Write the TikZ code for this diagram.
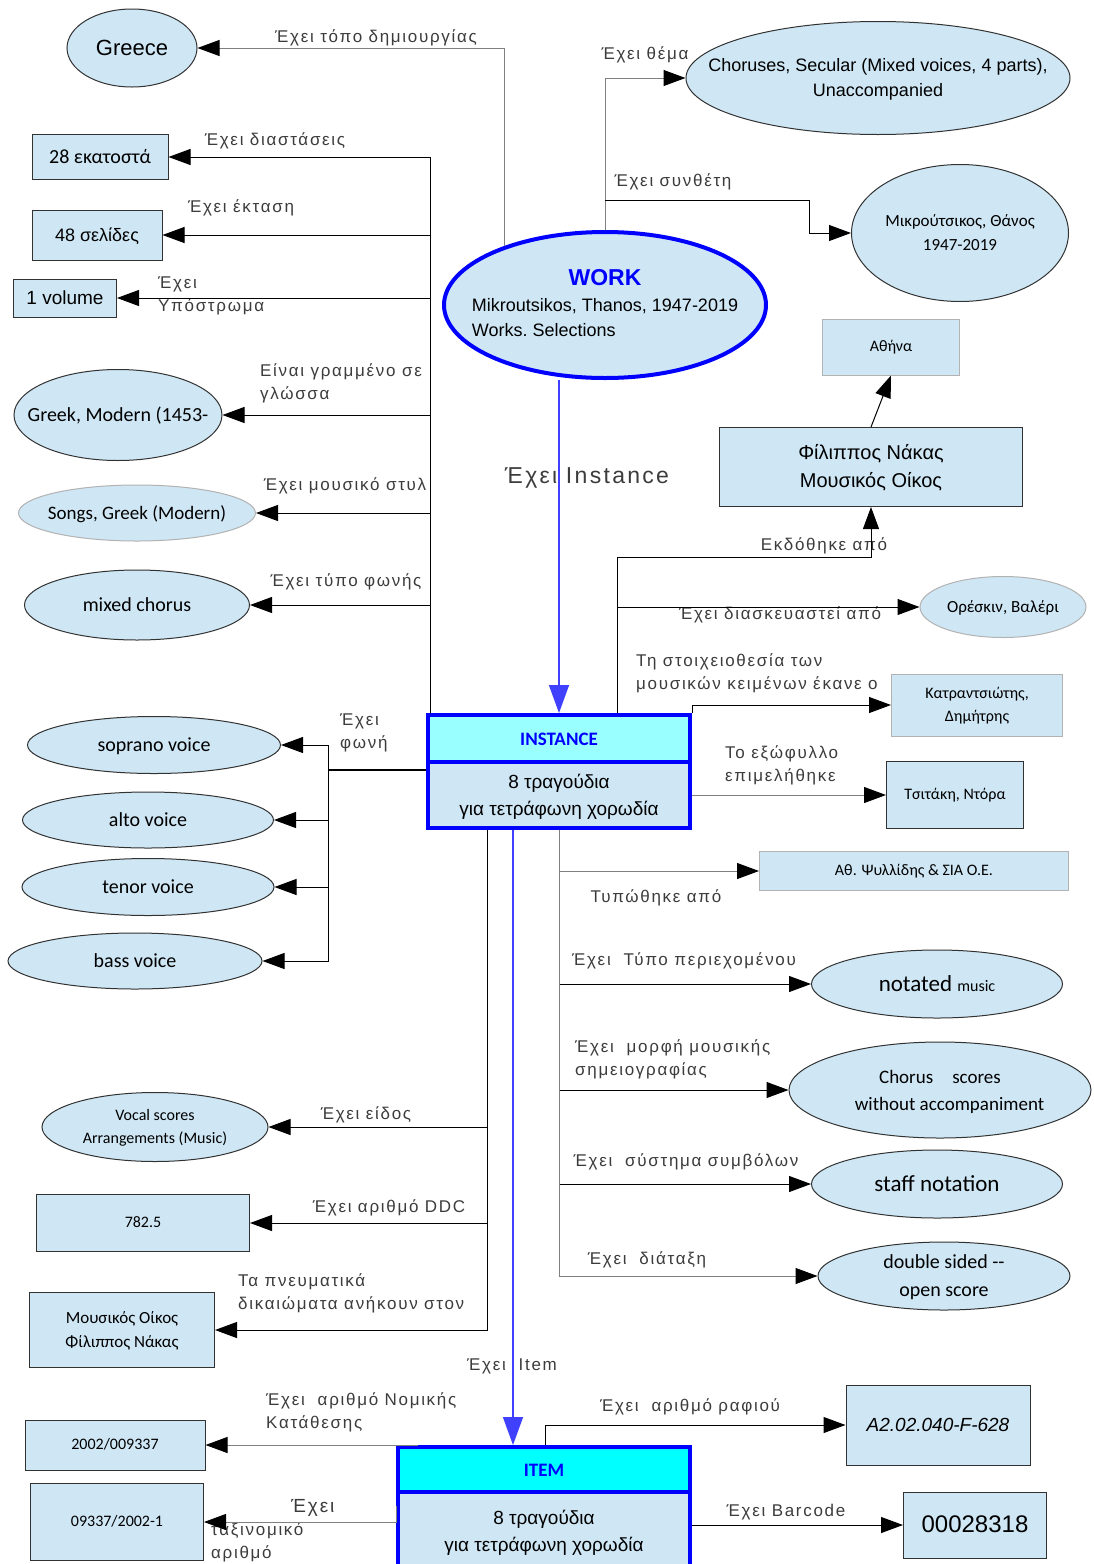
\documentclass[tikz,border=0pt]{standalone}
\usepackage{fontspec}
\setmainfont{Carlito}
\newfontfamily\arialf{Liberation Sans}
\newfontfamily\lblf[LetterSpace=10]{Liberation Sans}
\usetikzlibrary{shapes.geometric,arrows.meta,calc}

\definecolor{nodefill}{RGB}{207,231,245}
\definecolor{nodeline}{RGB}{50,50,50}
\definecolor{instfill}{RGB}{153,255,255}
\definecolor{itemfill}{RGB}{0,255,255}
\definecolor{linkblue}{RGB}{64,64,255}
\definecolor{lblgray}{RGB}{60,60,60}

\newcommand{\ctext}[1]{\makebox[0pt]{\raisebox{-.6em}{\smash{\begin{tabular}{@{}c@{}}#1\end{tabular}}}}}
\newcommand{\fsz}[1]{\fontsize{#1}{#1}\selectfont}
\renewcommand{\arraystretch}{1.4}

\tikzset{
  ell/.style={ellipse, draw=nodeline, fill=nodefill, inner sep=0pt, line width=1pt},
  box/.style={rectangle, draw=nodeline, fill=nodefill, inner sep=0pt, line width=1pt},
  lite/.style={draw=gray!60},
  main/.style={draw=blue, line width=4pt, inner sep=0pt},
  lbl/.style={text=lblgray, font=\lblf\fontsize{17}{23}\selectfont, inner sep=0pt, align=left},
  arr/.style={-{Triangle[length=22pt,width=16pt,color=black]}, line width=1pt},
  garr/.style={arr, draw=gray},
  barr/.style={-{Triangle[length=28pt,width=20pt]}, draw=linkblue, line width=1.5pt},
}

\begin{document}
\begin{tikzpicture}[x=1pt,y=-1pt]
\useasboundingbox[fill=white] (0,0) rectangle (1093,1564);

% central entities
\node[main, ellipse, fill=nodefill, minimum width=322, minimum height=146, font=\arialf\fsz{18}] (work) at (605,305)
  {\makebox[0pt]{\raisebox{-.6em}{\smash{\begin{tabular}{@{}l@{}}\multicolumn{1}{@{}c@{}}{\fsz{23}\bfseries\color{blue}WORK}\\Mikroutsikos, Thanos, 1947-2019\\Works.\ Selections\end{tabular}}}}};
\node[main, rectangle, fill=instfill, minimum width=262, minimum height=47, font=\fsz{19}\bfseries] (instT) at (559,738.5) {\ctext{\color{blue}INSTANCE}};
\node[main, rectangle, fill=nodefill, minimum width=262, minimum height=66, font=\arialf\fsz{19}] (instB) at (559,795) {\ctext{8 τραγούδια\\για τετράφωνη χορωδία}};
\node[main, rectangle, fill=itemfill, minimum width=292, minimum height=45, font=\fsz{19}\bfseries] (itemT) at (544,1469.5) {\ctext{\color{blue}ITEM}};
\node[main, rectangle, fill=nodefill, minimum width=292, minimum height=78, font=\arialf\fsz{19}] (itemB) at (544,1531) {\ctext{8 τραγούδια\\για τετράφωνη χορωδία}};

% left column
\node[ell, minimum width=130, minimum height=78, font=\arialf\fsz{22}] (greece) at (132,48) {\ctext{Greece}};
\node[box, minimum width=136, minimum height=45, font=\fsz{20}] (cm28) at (100,157) {\ctext{28 εκατοστά}};
\node[box, minimum width=130, minimum height=50, font=\arialf\fsz{18}] (pages) at (97,235) {\ctext{48 σελίδες}};
\node[box, minimum width=103, minimum height=38, font=\arialf\fsz{19}] (vol) at (65,298) {\ctext{1 volume}};
\node[ell, minimum width=208, minimum height=91, font=\fsz{20}] (lang) at (118,415) {\ctext{Greek, Modern (1453-}};
\node[ell, lite, minimum width=237, minimum height=56, font=\fsz{19}] (songs) at (137,513) {\ctext{Songs, Greek (Modern)}};
\node[ell, minimum width=225, minimum height=70, font=\fsz{20}] (mixed) at (137,605) {\ctext{mixed chorus}};
\node[ell, minimum width=253, minimum height=57, font=\fsz{20}] (sop) at (154,745) {\ctext{soprano voice}};
\node[ell, minimum width=251, minimum height=56, font=\fsz{20}] (alto) at (148,820) {\ctext{alto voice}};
\node[ell, minimum width=252, minimum height=57, font=\fsz{20}] (tenor) at (148,887) {\ctext{tenor voice}};
\node[ell, minimum width=254, minimum height=56, font=\fsz{20}] (bass) at (135,961) {\ctext{bass voice}};
\node[ell, minimum width=226, minimum height=69, font=\fsz{16}] (vocal) at (155,1127) {\ctext{Vocal scores\\Arrangements (Music)}};
\node[box, minimum width=213, minimum height=57, font=\fsz{16}] (ddc) at (143,1223) {\ctext{782.5}};
\node[box, minimum width=185, minimum height=75, font=\fsz{17}] (rights) at (122,1330) {\ctext{Μουσικός Οίκος\\Φίλιππος Νάκας}};
\node[box, minimum width=180, minimum height=50, font=\fsz{16}] (nk) at (115,1445) {\ctext{2002/009337}};
\node[box, minimum width=173, minimum height=77, font=\fsz{16}] (tax) at (117,1522) {\ctext{09337/2002-1}};

% right column
\node[ell, minimum width=384, minimum height=113, font=\arialf\fsz{18}] (chor) at (878,78) {\ctext{Choruses, Secular (Mixed voices, 4 parts),\\Unaccompanied}};
\node[ell, minimum width=217, minimum height=137, font=\fsz{17}] (mik) at (960,233) {\ctext{Μικρούτσικος, Θάνος\\1947-2019}};
\node[box, lite, minimum width=137, minimum height=56, font=\fsz{16}] (ath) at (891,347) {\ctext{Αθήνα}};
\node[box, minimum width=303, minimum height=79, font=\arialf\fsz{20}] (fil) at (871,467) {\ctext{Φίλιππος Νάκας\\Μουσικός Οίκος}};
\node[ell, lite, minimum width=166, minimum height=61, font=\fsz{17}] (ores) at (1003,607) {\ctext{Ορέσκιν, Βαλέρι}};
\node[box, lite, minimum width=171, minimum height=62, font=\fsz{16}] (kat) at (977,705) {\ctext{Κατραντσιώτης,\\Δημήτρης}};
\node[box, minimum width=137, minimum height=67, font=\fsz{16}] (tsi) at (955,795) {\ctext{Τσιτάκη, Ντόρα}};
\node[box, lite, minimum width=309, minimum height=39, font=\fsz{16}] (psy) at (914,871) {\ctext{Αθ. Ψυλλίδης \& ΣΙΑ Ο.Ε.}};
\node[ell, minimum width=251, minimum height=68, font=\fsz{23}] (notated) at (937,984) {\ctext{notated {\fsz{16}music}}};
\node[ell, minimum width=302, minimum height=96, font=\fsz{19}] (chsc) at (940,1090) {\ctext{Chorus\quad scores\\\quad without accompaniment}};
\node[ell, minimum width=251, minimum height=68, font=\fsz{23}] (staff) at (937,1184) {\ctext{staff notation}};
\node[ell, minimum width=252, minimum height=68, font=\fsz{20}] (dbl) at (944,1276) {\ctext{double sided -{}-\\open score}};
\node[box, minimum width=184, minimum height=80, font=\arialf\fsz{19}\itshape] (raf) at (938,1425) {\ctext{A2.02.040-F-628}};
\node[box, minimum width=143, minimum height=66, font=\arialf\fsz{24}] (bar) at (975,1525) {\ctext{00028318}};

% labels
\node[lbl] (lGreece) at (376,38) {Έχει τόπο δημιουργίας};
\node[lbl] (lTheme) at (645,55) {Έχει θέμα};
\node[lbl] (lComp) at (673,182) {Έχει συνθέτη};
\node[lbl] (lDim) at (275,141) {Έχει διαστάσεις};
\node[lbl] (lExt) at (241,208) {Έχει έκταση};
\node[lbl, anchor=west] (lMed) at (158,296) {Έχει\\Υπόστρωμα};
\node[lbl, anchor=west] (lLang) at (260,383) {Είναι γραμμένο σε\\γλώσσα};
\node[lbl] (lStyle) at (345,486) {Έχει μουσικό στυλ};
\node[lbl] (lVtype) at (346,582) {Έχει τύπο φωνής};
\node[lbl, anchor=west] (lVoice) at (340,733) {Έχει\\φωνή};
\node[lbl, font=\lblf\fsz{23}] (lInst) at (587,478) {Έχει Instance};
\node[lbl] (lPub) at (824,546) {Εκδόθηκε από};
\node[lbl] (lArr) at (780,615) {Έχει διασκευαστεί από};
\node[lbl, anchor=west] (lSet) at (636,673) {Τη στοιχειοθεσία των\\μουσικών κειμένων έκανε ο};
\node[lbl, anchor=west] (lCov) at (725,765) {Το εξώφυλλο\\επιμελήθηκε};
\node[lbl] (lPrint) at (656,898) {Τυπώθηκε από};
\node[lbl] (lCont) at (684,961) {Έχει\ \ Τύπο περιεχομένου};
\node[lbl, anchor=west] (lForm) at (575,1059) {Έχει\ \ μορφή μουσικής\\σημειογραφίας};
\node[lbl] (lSym) at (686,1162) {Έχει\ \ σύστημα συμβόλων};
\node[lbl] (lLay) at (647,1260) {Έχει\ \ διάταξη};
\node[lbl] (lGenre) at (366,1115) {Έχει είδος};
\node[lbl] (lDdc) at (389,1208) {Έχει αριθμό DDC};
\node[lbl, anchor=west] (lRights) at (238,1293) {Τα πνευματικά\\δικαιώματα ανήκουν στον};
\node[lbl] (lItem) at (512,1366) {Έχει\ \ Item};
\node[lbl, anchor=west] (lDep) at (266,1412) {Έχει\ \ αριθμό Νομικής\\Κατάθεσης};
\node[lbl, anchor=west] (lCall) at (211,1531) {\hspace{80pt}{\fsz{19}Έχει}\\ταξινομικό\\αριθμό};
\node[lbl] (lShelf) at (690,1407) {Έχει\ \ αριθμό ραφιού};
\node[lbl] (lBar) at (786,1512) {Έχει Barcode};

% work links
\draw[garr] ([xshift=15pt,yshift=6pt]work.north west) |- (greece.east);
\draw[garr] (work.north) |- (chor.west);
\coordinate (wc) at (605,200);
\draw[arr] (wc) -| ($(mik.west)+(-42,0)$) -- (mik.west);
\draw[barr] (instT.north |- work.south) -- (instT.north);

% instance, left trunk
\draw[arr] ([xshift=4pt]instT.north west) |- (cm28.east);
\draw[arr] ([xshift=4pt]instT.north west) |- (pages.east);
\draw[arr] ([xshift=4pt]instT.north west) |- (vol.east);
\draw[arr] ([xshift=4pt]instT.north west) |- (lang.east);
\draw[arr] ([xshift=4pt]instT.north west) |- (songs.east);
\draw[arr] ([xshift=4pt]instT.north west) |- (mixed.east);

% voices
\coordinate (vj) at (328,770);
\draw[line width=1.5pt] ([yshift=-10pt]instB.north west) -- (vj);
\foreach \v in {sop,alto,tenor,bass}
  \draw[arr] (vj) |- (\v.east);

% instance, upper right
\coordinate (pj) at (617,557);
\draw[line width=1pt] (instT.north -| pj) -- (pj);
\draw[arr] (pj) -| (fil.south);
\draw[arr] (pj |- ores.west) -- (ores.west);
\draw[arr] (fil.north) -- (ath.south);
\draw[arr] (instT.north east) |- (kat.west);
\draw[garr] (instB.east |- tsi.west) -- (tsi.west);

% instance, lower right
\draw[garr] (instB.south) |- (psy.west);
\draw[arr] (instB.south) |- (notated.west);
\draw[arr] (instB.south) |- (chsc.west);
\draw[arr] (instB.south) |- (staff.west);
\draw[garr] (instB.south) |- (dbl.west);

% instance, lower left
\coordinate (lt) at ([xshift=61pt]instB.south west);
\draw[arr] (lt) |- (vocal.east);
\draw[arr] (lt) |- (ddc.east);
\draw[arr] (lt) |- (rights.east);

% instance to item
\coordinate (ii) at ([xshift=-46pt]instB.south);
\draw[barr] (ii) -- (ii |- itemT.north);

% item links
\draw[garr] ([xshift=22pt]itemT.north west) |- (nk.east);
\draw[garr] ([yshift=-16pt]itemB.north west) |- (tax.east);
\draw[arr] ([xshift=1pt]itemT.north) |- (raf.west);
\draw[arr] (itemB.east |- bar.west) -- (bar.west);

\end{tikzpicture}
\end{document}
